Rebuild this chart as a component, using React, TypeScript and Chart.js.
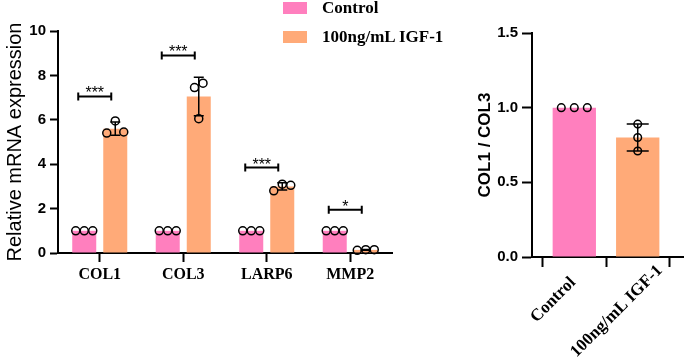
import React, { useEffect, useRef } from 'react';
import { Chart, registerables } from 'chart.js';
Chart.register(...registerables);

// ---------- data ----------
const genes = ['COL1', 'COL3', 'LARP6', 'MMP2'];
const controlMeans = [1, 1, 1, 1];
const igfMeans = [5.6, 7.05, 3.0, 0.14];
const controlSD = [0, 0, 0, 0];
const igfSD = [0.3, 0.87, 0.16, 0.02];
const controlPoints = [[1, 1, 1], [1, 1, 1], [1, 1, 1], [1, 1, 1]];
const igfPoints = [[5.4, 5.95, 5.45], [7.45, 7.65, 6.05], [2.8, 3.1, 3.05], [0.12, 0.15, 0.15]];
const sigLevels = [7.05, 8.9, 3.85, 1.95];
const sigLabels = ['***', '***', '***', '*'];
const yTicksLeft = [0, 2, 4, 6, 8, 10];

const ratioGroups = ['Control', '100ng/mL IGF-1'];
const ratioMeans = [1.0, 0.8];
const ratioSD = [0, 0.09];
const ratioPoints = [[1, 1, 1], [0.89, 0.8, 0.71]];
const yTicksRight = [0, 0.5, 1.0, 1.5];

const legendLabels = ['Control', '100ng/mL IGF-1'];

// ---------- styles ----------
const PINK = '#FF7FBE';
const ORANGE = '#FFAA78';
const SANS = '"Liberation Sans", Arial, sans-serif';
const SERIF = '"Liberation Serif", "Times New Roman", serif';

type OverlayCfg = {
  means: number[][];
  sd: number[][];
  pts: number[][][];
  capHalf: number;
  d: number;
  r: number;
  thresh: number;
  brackets?: { levels: number[]; labels: string[] };
  rotLabels?: string[];
};

function makeOverlay(cfg: OverlayCfg) {
  return {
    id: 'overlay',
    afterDatasetsDraw(chart: any) {
      const ctx = chart.ctx;
      const ys = chart.scales.y;
      ctx.save();
      ctx.strokeStyle = '#000';
      ctx.lineWidth = 1.5;
      cfg.sd.forEach((sdArr, di) => {
        const meta = chart.getDatasetMeta(di);
        meta.data.forEach((el: any, j: number) => {
          const x = el.x;
          const mean = cfg.means[di][j];
          const sd = sdArr[j];
          if (sd > 0) {
            const yt = ys.getPixelForValue(mean + sd);
            const yb = ys.getPixelForValue(mean - sd);
            ctx.beginPath();
            ctx.moveTo(x, yt); ctx.lineTo(x, yb);
            ctx.moveTo(x - cfg.capHalf, yt); ctx.lineTo(x + cfg.capHalf, yt);
            ctx.moveTo(x - cfg.capHalf, yb); ctx.lineTo(x + cfg.capHalf, yb);
            ctx.stroke();
          }
          // individual points, spread horizontally when they overlap
          const vals = cfg.pts[di][j];
          const py = vals.map((v) => ys.getPixelForValue(v));
          const order = vals.map((_, k) => k).sort((a, b) => py[a] - py[b]);
          const clusters: number[][] = [];
          let cur: number[] = [];
          order.forEach((k, idx) => {
            if (idx === 0 || Math.abs(py[k] - py[order[idx - 1]]) < cfg.thresh) cur.push(k);
            else { clusters.push(cur); cur = [k]; }
          });
          if (cur.length) clusters.push(cur);
          const off: number[] = new Array(vals.length).fill(0);
          clusters.forEach((c) => {
            const sorted = c.slice().sort((a, b) => a - b);
            sorted.forEach((k, i) => { off[k] = (i - (sorted.length - 1) / 2) * cfg.d; });
          });
          vals.forEach((_, k) => {
            ctx.beginPath();
            ctx.arc(x + off[k], py[k], cfg.r, 0, Math.PI * 2);
            ctx.stroke();
          });
        });
      });
      if (cfg.brackets) {
        const m0 = chart.getDatasetMeta(0);
        const m1 = chart.getDatasetMeta(1);
        ctx.lineWidth = 2;
        ctx.fillStyle = '#000';
        ctx.font = `16px ${SANS}`;
        ctx.textAlign = 'center';
        ctx.textBaseline = 'alphabetic';
        cfg.brackets.levels.forEach((lv, j) => {
          const x1 = m0.data[j].x - 6;
          const x2 = m1.data[j].x - 4;
          const yy = ys.getPixelForValue(lv);
          ctx.beginPath();
          ctx.moveTo(x1, yy); ctx.lineTo(x2, yy);
          ctx.moveTo(x1, yy - 4); ctx.lineTo(x1, yy + 4);
          ctx.moveTo(x2, yy - 4); ctx.lineTo(x2, yy + 4);
          ctx.stroke();
          ctx.fillText(cfg.brackets!.labels[j], (x1 + x2) / 2, yy + 2);
        });
      }
      if (cfg.rotLabels) {
        const xs = chart.scales.x;
        const axisY = xs.top;
        ctx.fillStyle = '#000';
        ctx.font = `bold 17px ${SERIF}`;
        ctx.textAlign = 'center';
        ctx.textBaseline = 'middle';
        cfg.rotLabels.forEach((lab, i) => {
          const tx = xs.getPixelForValue(i);
          const half = ctx.measureText(lab).width / 2;
          const cx = tx - 21;
          const cy = axisY + 33 + 0.35 * half;
          ctx.save();
          ctx.translate(cx, cy);
          ctx.rotate(-Math.PI / 4);
          ctx.fillText(lab, 0, 0);
          ctx.restore();
        });
      }
      ctx.restore();
    },
  };
}

function LeftChart() {
  const ref = useRef<HTMLCanvasElement>(null);
  useEffect(() => {
    const chart = new Chart(ref.current as HTMLCanvasElement, {
      type: 'bar',
      data: {
        labels: genes,
        datasets: [
          { label: legendLabels[0], data: controlMeans, backgroundColor: PINK, categoryPercentage: 0.743, barPercentage: 0.774 },
          { label: legendLabels[1], data: igfMeans, backgroundColor: ORANGE, categoryPercentage: 0.743, barPercentage: 0.774 },
        ],
      },
      options: {
        animation: false,
        responsive: false,
        layout: { padding: { top: 31, right: 68, bottom: 0, left: 0 } },
        plugins: { legend: { display: false }, tooltip: { enabled: false } },
        scales: {
          x: {
            grid: { display: true, drawOnChartArea: false, offset: false, tickLength: 9, tickWidth: 2, tickColor: '#000' },
            border: { color: '#000', width: 2 },
            ticks: { color: '#000', font: { family: SERIF, size: 16, weight: 'bold' }, padding: 3, maxRotation: 0 },
            afterFit: (s: any) => { s.height = 108; },
          },
          y: {
            min: 0,
            max: 10,
            afterBuildTicks: (s: any) => { s.ticks = yTicksLeft.map((v) => ({ value: v })); },
            ticks: { color: '#000', font: { family: SANS, size: 15, weight: 'bold' }, padding: 4 },
            grid: { display: true, drawOnChartArea: false, tickLength: 8, tickWidth: 2, tickColor: '#000' },
            border: { color: '#000', width: 2 },
            title: { display: true, text: 'Relative mRNA expression', color: '#000', font: { family: SANS, size: 20 }, padding: { top: 3, bottom: 0 } },
            afterFit: (s: any) => { s.width = 58; },
          },
        },
      } as any,
      plugins: [makeOverlay({
        means: [controlMeans, igfMeans],
        sd: [controlSD, igfSD],
        pts: [controlPoints, igfPoints],
        capHalf: 5,
        d: 8.5,
        r: 4,
        thresh: 14,
        brackets: { levels: sigLevels, labels: sigLabels },
      })],
    });
    return () => chart.destroy();
  }, []);
  return <canvas ref={ref} width={460} height={361} style={{ position: 'absolute', left: 0, top: 0, display: 'block' }} />;
}

function RightChart() {
  const ref = useRef<HTMLCanvasElement>(null);
  useEffect(() => {
    const chart = new Chart(ref.current as HTMLCanvasElement, {
      type: 'bar',
      data: {
        datasets: [
          {
            data: ratioMeans.map((v, i) => ({ x: i, y: v })),
            backgroundColor: [PINK, ORANGE],
            categoryPercentage: 1,
            barPercentage: 0.683,
          },
        ],
      },
      options: {
        animation: false,
        responsive: false,
        layout: { padding: { top: 33, right: 2, bottom: 0, left: 0 } },
        plugins: { legend: { display: false }, tooltip: { enabled: false } },
        scales: {
          x: {
            type: 'linear',
            min: -0.667,
            max: 1.714,
            offset: false,
            afterBuildTicks: (s: any) => { s.ticks = ratioGroups.map((_, i) => ({ value: i })); },
            ticks: { display: false },
            grid: { display: true, drawOnChartArea: false, tickLength: 10, tickWidth: 2, tickColor: '#000' },
            border: { color: '#000', width: 2 },
            afterFit: (s: any) => { s.height = 104; },
          },
          y: {
            min: 0,
            max: 1.5,
            afterBuildTicks: (s: any) => { s.ticks = yTicksRight.map((v) => ({ value: v })); },
            ticks: { color: '#000', font: { family: SANS, size: 15, weight: 'bold' }, padding: 4, callback: (v: any) => Number(v).toFixed(1) },
            grid: { display: true, drawOnChartArea: false, tickLength: 10, tickWidth: 2, tickColor: '#000' },
            border: { color: '#000', width: 2 },
            title: { display: true, text: 'COL1 / COL3', color: '#000', font: { family: SANS, size: 17, weight: 'bold' }, padding: { top: 15, bottom: 0 } },
            afterFit: (s: any) => { s.width = 72; },
          },
        },
      } as any,
      plugins: [makeOverlay({
        means: [ratioMeans],
        sd: [ratioSD],
        pts: [ratioPoints],
        capHalf: 11,
        d: 13,
        r: 3.8,
        thresh: 10,
        rotLabels: ratioGroups,
      })],
    });
    return () => chart.destroy();
  }, []);
  return <canvas ref={ref} width={225} height={361} style={{ position: 'absolute', left: 460, top: 0, display: 'block' }} />;
}

export default function App() {
  const legendColors = [PINK, ORANGE];
  const legendTops = [2, 31];
  return (
    <div style={{ position: 'fixed', left: 0, top: 0, width: 685, height: 361, background: '#fff', overflow: 'hidden' }}>
      <LeftChart />
      <RightChart />
      {legendLabels.map((lab, i) => (
        <React.Fragment key={lab}>
          <div style={{ position: 'absolute', left: 283, top: legendTops[i], width: 24, height: 12, background: legendColors[i] }} />
          <div style={{ position: 'absolute', left: 322, top: legendTops[i] - 4, font: `bold 17px ${SERIF}`, lineHeight: '20px', color: '#000', whiteSpace: 'nowrap' }}>{lab}</div>
        </React.Fragment>
      ))}
    </div>
  );
}
